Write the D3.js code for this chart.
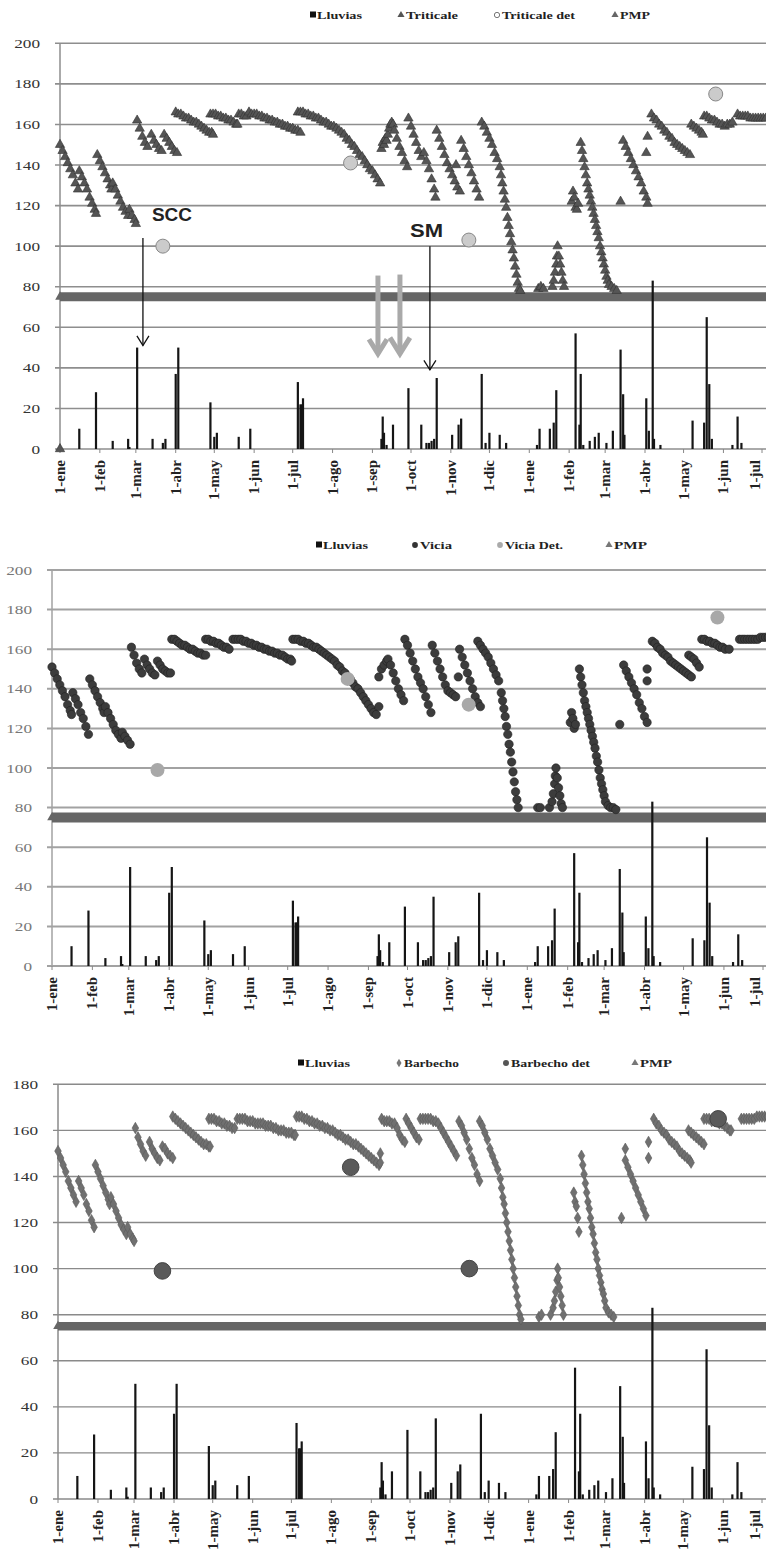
<!DOCTYPE html>
<html><head><meta charset="utf-8">
<script src="https://cdn.jsdelivr.net/npm/d3@7"></script>
<style>body{margin:0;background:#fff}svg{display:block}</style>
</head><body><svg id="c" width="766" height="1553"></svg>
<script>
// ---------- DATA ----------
const mesesDias = [0,31,59,90,120,151,181,212,243,273,304,334,365,396,424,455,485,516,546];
const mesesEtiquetas = ["1-ene","1-feb","1-mar","1-abr","1-may","1-jun","1-jul","1-ago","1-sep","1-oct","1-nov","1-dic","1-ene","1-feb","1-mar","1-abr","1-may","1-jun","1-jul"];

const lluviasDia = [15,28,41,53,54,60,72,80,82,90,92,117,120,122,139,148,185,187,188,189,250,251,252,254,259,271,281,285,287,289,291,293,305,310,312,328,331,334,342,347,371,373,381,384,386,401,404,405,407,412,416,419,425,430,436,438,439,456,458,461,462,467,492,501,503,505,507,523,527,530];
const lluviasMm  = [10,28,4,5,1,50,5,3,5,37,50,23,6,8,6,10,33,22,22,25,5,16,8,2,12,30,12,3,3,4,5,35,7,12,15,37,3,8,7,3,2,10,10,13,29,57,12,37,2,4,6,8,3,9,49,27,7,25,9,83,5,2,14,13,65,32,5,2,16,3];

const pmpValor = 75;

const triticale = [
[0,0],
[0,150],[2,147],[4,144],[6,141],[8,138],[10,135],[12,131],[14,128],
[15,137],[17,134],[19,131],[21,128],[23,124],[25,121],[27,118],[28,116],
[29,145],[31,142],[33,139],[35,136],[37,133],[39,130],[40,128],
[41,131],[43,128],[45,125],[47,122],[49,119],[51,117],[53,115],
[54,118],[56,115],[58,113],[59,111],
[60,162],[62,158],[64,154],[66,151],[68,149],
[71,155],[73,152],[75,150],[77,148],[79,147],
[81,155],[83,153],[85,151],[87,149],[89,147],[91,146],
[90,166],[92,165],[94,165],[96,164],[98,163],[100,163],[102,162],[104,161],[106,161],[108,160],[110,159],[112,158],[114,157],[116,156],[118,156],[119,155],
[117,165],[119,165],[121,165],[123,164],[125,164],[127,163],[129,163],[131,162],[133,162],[135,161],[137,160],[138,160],
[139,165],[141,165],[143,164],[145,164],[147,166],[149,165],[151,165],[153,165],[155,164],[157,164],[159,163],[161,163],[163,162],[165,162],[167,161],[169,161],[171,160],[173,160],[175,159],[177,159],[179,158],[181,158],[183,157],[185,157],[187,156],
[185,166],[187,166],[189,166],[191,165],[193,165],[195,164],[197,164],[199,163],[201,163],[203,162],[205,161],[207,161],[209,160],[211,159],[213,159],[215,158],[217,157],[219,156],[221,155],[223,153],[225,152],[227,150],[229,149],[231,147],[233,145],[235,144],[237,142],[239,140],[241,138],[243,137],[245,135],[247,133],[249,131],
[250,148],[251,151],[252,150],[253,153],[254,152],[255,155],[256,158],[257,160],[258,161],[259,160],[260,157],[262,153],[264,149],[266,146],[268,142],[270,139],
[271,163],[273,159],[275,155],[277,151],[279,147],[281,144],[283,146],[285,142],[287,138],[289,133],[291,128],[292,124],
[293,157],[295,153],[297,149],[299,145],[301,141],[303,138],[305,135],[307,132],[308,140],[309,129],[311,127],
[312,152],[314,148],[316,144],[318,140],[320,136],[322,132],[324,128],[326,124],
[328,161],[330,159],[332,156],[334,153],[336,150],[338,146],[340,143],[342,139],[343,135],[344,131],[345,127],[346,123],[347,119],[348,114],[349,110],[350,106],[351,102],[352,98],[353,94],[354,90],[355,86],[356,82],[357,79],[358,78],
[372,79],[374,80],[376,79],[383,80],[384,83],[385,87],[386,91],[386.5,95],[387,100],[388,95],[389,91],[390,87],[391,83],[392,80],
[398,122],[399,127],[400,124],[401,119],[402,118],[403,121],
[405,151],[406,147],[407,143],[408,139],[409,135],[410,131],[411,128],[412,125],[413,122],[414,119],[415,116],[416,113],[417,110],[418,107],[419,104],[420,100],[421,97],[422,94],[423,91],[424,88],[425,85],[426,83],[427,81],[429,80],[431,79],[433,78],
[436,122],
[438,152],[440,149],[442,146],[444,143],[446,140],[448,137],[450,134],[452,131],[454,127],[456,124],[457,121],
[456,146],[457,154],
[460,165],[462,163],[464,162],[466,160],[468,159],[470,157],[472,156],[474,154],[476,153],[478,151],[480,150],[482,149],[484,148],[486,147],[488,146],[490,145],
[491,160],[493,159],[495,158],[497,157],[499,156],[500,155],
[501,164],[503,164],[505,163],[507,162],[509,162],[511,161],[513,160],[515,160],[517,159],[519,160],[521,160],[523,161],
[527,165],[529,164],[531,164],[533,164],[535,164],[537,163],[539,163],[541,163],[543,163],[545,163],[547,163],[549,163]
];
const triticaleDet = [[80,100],[226,141],[318,103],[510,175]];

const vicia = [
[0,151],[2,148],[4,145],[6,142],[8,139],[10,136],[12,132],[14,129],[15,127],
[16,138],[18,135],[20,132],[22,128],[24,125],[26,121],[28,117],
[29,145],[31,142],[33,139],[35,136],[37,133],[39,130],[40,128],
[41,131],[43,128],[45,125],[47,122],[49,119],[51,117],[53,115],
[54,118],[56,116],[58,114],[60,112],
[61,161],[63,157],[65,153],[67,150],[69,148],
[71,155],[73,152],[75,150],[77,148],[79,147],
[81,154],[83,152],[85,150],[87,149],[89,148],[91,148],
[92,165],[94,165],[96,164],[98,163],[100,162],[102,162],[104,161],[106,160],[108,160],[110,159],[112,158],[114,158],[116,157],[118,157],
[118,165],[120,165],[122,164],[124,164],[126,163],[128,163],[130,162],[132,161],[134,161],[136,160],
[139,165],[141,165],[143,165],[145,165],[147,164],[149,164],[151,163],[153,163],[155,162],[157,162],[159,161],[161,161],[163,160],[165,160],[167,159],[169,159],[171,158],[173,158],[175,157],[177,157],[179,156],[181,155],[183,155],[184,154],
[185,165],[187,165],[189,165],[191,164],[193,164],[195,163],[197,163],[199,162],[201,161],[203,161],[205,160],[207,159],[209,158],[211,157],[213,156],[215,155],[217,154],[219,152],[221,151],[223,149],[225,148],[227,146],[229,145],[231,143],[233,141],[235,140],[237,138],[239,136],[241,134],[243,132],[245,130],[247,128],[249,127],
[251,131],[251,146],[253,150],[255,152],[257,154],[258,155],[260,152],[262,148],[264,144],[266,140],[268,137],[270,134],
[271,165],[273,162],[275,158],[277,154],[279,150],[281,146],[283,143],[285,140],[287,136],[289,132],[291,128],
[292,162],[294,158],[296,154],[298,150],[300,146],[302,142],[304,139],[306,138],[308,137],[310,136],
[312,146],[313,160],[315,156],[317,152],[319,148],[321,144],[323,140],[325,136],[327,133],[329,131],
[327,164],[329,162],[331,160],[333,158],[335,156],[337,153],[339,150],[341,147],[343,144],[345,138],[346,134],[347,130],[348,126],[349,121],[350,117],[351,112],[352,108],[353,103],[354,98],[355,93],[356,88],[357,84],[358,80],
[373,80],[375,80],[382,80],[384,83],[385,87],[386,92],[386.5,96],[387,100],[388,95],[389,90],[390,86],[391,82],[392,80],
[398,123],[399,128],[400,125],[401,120],[402,122],
[405,150],[406,146],[407,142],[408,138],[409,134],[410,131],[411,128],[412,125],[413,122],[414,119],[415,116],[416,113],[417,110],[418,106],[419,103],[420,99],[421,95],[422,92],[423,89],[424,86],[425,83],[427,81],[429,80],[431,80],[433,79],
[436,122],
[439,152],[441,149],[443,146],[445,143],[447,140],[449,137],[451,133],[453,130],[455,126],[457,123],
[457,144],[457,150],
[461,164],[463,163],[465,161],[467,160],[469,158],[471,157],[473,156],[475,154],[477,153],[479,152],[481,151],[483,150],[485,149],[487,148],[489,147],[491,146],
[489,157],[491,156],[493,155],[495,153],[497,151],
[499,165],[501,165],[503,164],[505,164],[507,163],[509,163],[511,162],[513,161],[515,161],[517,160],[520,160],
[528,165],[530,165],[532,165],[534,165],[536,165],[538,165],[540,165],[542,165],[544,166],[546,166],[548,166],[550,166]
];
const viciaDet = [[81,99],[227,145],[320,132],[511,176]];

const barbecho = [
[0,151],[2,148],[4,145],[6,142],[8,138],[10,135],[12,132],[14,129],
[16,138],[18,135],[20,132],[22,128],[24,125],[26,121],[28,118],
[29,145],[31,142],[33,139],[35,136],[37,133],[39,130],[40,128],
[41,131],[43,128],[45,125],[47,122],[49,119],[51,117],[53,115],
[54,118],[56,115],[58,113],[59,112],
[60,161],[62,157],[64,154],[66,151],[68,149],
[71,155],[73,152],[75,150],[77,148],[79,147],
[81,153],[83,152],[85,150],[87,149],[89,148],
[89,166],[91,165],[93,164],[95,163],[97,162],[99,161],[101,160],[103,159],[105,158],[107,157],[109,156],[111,155],[113,154],[115,154],[117,153],[118,153],
[117,165],[119,165],[121,165],[123,164],[125,164],[127,163],[129,163],[131,162],[133,162],[135,161],[137,161],
[139,165],[141,165],[143,165],[145,165],[147,164],[149,164],[151,164],[153,163],[155,163],[157,163],[159,163],[161,162],[163,162],[165,162],[167,161],[169,161],[171,160],[173,160],[175,160],[177,159],[179,159],[181,159],[183,158],[184,158],
[185,166],[187,166],[189,166],[191,165],[193,165],[195,164],[197,164],[199,163],[201,163],[203,162],[205,162],[207,161],[209,161],[211,160],[213,160],[215,159],[217,158],[219,158],[221,157],[223,156],[225,156],[227,155],[229,154],[231,154],[233,153],[235,152],[237,151],[239,150],[241,149],[243,148],[245,147],[247,146],[249,145],
[250,150],[250,146],
[251,165],[253,164],[255,164],[257,164],[259,163],[261,163],[263,161],[265,158],[267,156],[269,155],
[270,165],[272,163],[274,161],[276,159],[278,157],[280,156],
[281,165],[283,165],[285,165],[287,165],[289,165],[291,164],[293,164],[295,163],[297,161],[299,159],[301,157],[303,155],[305,153],[307,151],[309,149],
[311,164],[313,162],[315,159],[317,156],[319,152],[321,148],[323,145],[325,141],[327,138],
[327,164],[329,162],[331,159],[333,156],[335,152],[337,149],[339,146],[341,143],[343,139],[344,135],[345,131],[346,128],[347,124],[348,120],[349,116],[350,112],[351,108],[352,104],[353,100],[354,96],[355,92],[356,88],[357,84],[358,80],[359,78],
[373,79],[375,80],[382,80],[384,83],[385,86],[386,90],[387,95],[387.5,100],[388,96],[389,92],[390,88],[391,84],[392,80],
[400,133],[401,129],[402,127],[403,122],[404,116],
[406,149],[407,145],[408,141],[409,137],[410,133],[411,129],[412,126],[413,122],[414,118],[415,115],[416,111],[417,107],[418,104],[419,100],[420,97],[421,94],[422,91],[423,89],[424,86],[425,83],[427,81],[429,80],[431,79],
[437,122],
[440,152],[440,147],[442,144],[444,141],[446,138],[448,135],[450,132],[452,129],[454,126],[456,123],
[458,155],[458,148],
[462,165],[464,163],[466,162],[468,160],[470,159],[472,158],[474,156],[476,155],[478,154],[480,153],[482,151],[484,150],[486,149],[488,148],[490,147],[491,146],
[489,160],[491,159],[493,158],[495,157],[497,156],[499,155],[501,154],
[501,165],[503,165],[505,165],[507,164],[509,164],[511,164],[513,163],[515,163],[517,162],[519,161],[521,160],[522,160],
[530,165],[532,165],[534,165],[536,165],[538,165],[540,165],[542,166],[544,166],[546,166],[548,166],[550,166]
];
const barbechoDet = [[81,99],[227,144],[319,100],[512,165]];

// ---------- LAYOUT ----------
const svg = d3.select("#c");
const W = 766;

function panel(cfg) {
  const g = svg.append("g");
  const x = d3.scaleLinear().domain([0, 546]).range([cfg.left, cfg.right]);
  const y = d3.scaleLinear().domain([0, cfg.ymax]).range([cfg.bottom, cfg.top]);
  const yt = d3.range(0, cfg.ymax + 1, 20);

  g.selectAll("line.grid").data(yt).join("line")
    .attr("x1", cfg.left - 5).attr("x2", W)
    .attr("y1", d => y(d)).attr("y2", d => y(d))
    .attr("stroke", cfg.gridColor).attr("stroke-width", cfg.gridW);
  g.append("line").attr("x1", cfg.left).attr("x2", cfg.left)
    .attr("y1", y(0)).attr("y2", y(cfg.ymax))
    .attr("stroke", cfg.gridColor).attr("stroke-width", 1.5);
  g.selectAll("text.yl").data(yt).join("text")
    .attr("x", cfg.left - 20).attr("y", d => y(d) + 4.5)
    .attr("text-anchor", "end")
    .attr("font-family", "Liberation Serif, serif")
    .attr("font-size", 13).attr("fill", cfg.ylabColor)
    .attr("textLength", d => String(d).length * 8.6)
    .attr("lengthAdjust", "spacingAndGlyphs")
    .text(d => d);
  g.selectAll("line.xt").data(mesesDias).join("line")
    .attr("x1", d => x(d)).attr("x2", d => x(d))
    .attr("y1", y(0)).attr("y2", y(0) + 4)
    .attr("stroke", "#888").attr("stroke-width", 1);
  g.selectAll("text.xl").data(mesesDias).join("text")
    .attr("transform", d => `translate(${Math.min(x(d) + 5, 760)},${y(0) + 11}) rotate(-90)`)
    .attr("text-anchor", "end")
    .attr("font-family", "Liberation Serif, serif")
    .attr("font-weight", "bold")
    .attr("font-size", 15).attr("fill", "#222")
    .text((d, i) => mesesEtiquetas[i]);

  g.append("line").attr("x1", x(0)).attr("x2", W)
    .attr("y1", y(pmpValor)).attr("y2", y(pmpValor))
    .attr("stroke", "#666").attr("stroke-width", cfg.pmpW);
  g.append("path").attr("d", d3.symbol().type(d3.symbolTriangle).size(40)())
    .attr("transform", `translate(${x(0)},${y(pmpValor)})`).attr("fill", "#666");

  g.selectAll("rect.ll").data(lluviasDia).join("rect")
    .attr("x", d => x(d) - 1.1).attr("width", 2.2)
    .attr("y", (d, i) => y(lluviasMm[i]))
    .attr("height", (d, i) => y(0) - y(lluviasMm[i]))
    .attr("fill", "#151515");

  const sym = d3.symbol().type(cfg.symbol).size(cfg.symSize)();
  g.selectAll("path.s").data(cfg.serie).join("path")
    .attr("d", sym)
    .attr("transform", d => `translate(${x(d[0])},${y(d[1])})`)
    .attr("fill", cfg.symFill).attr("stroke", cfg.symStroke).attr("stroke-width", 0.6);

  g.selectAll("circle.det").data(cfg.det).join("circle")
    .attr("cx", d => x(d[0])).attr("cy", d => y(d[1])).attr("r", cfg.detR)
    .attr("fill", cfg.detFill).attr("stroke", cfg.detStroke).attr("stroke-width", 1);

  const lg = g.append("g").attr("font-family", "Liberation Serif, serif")
    .attr("font-weight", "bold").attr("font-size", 10).attr("fill", "#222");
  cfg.legend.forEach(it => {
    const cy = cfg.legendY;
    if (it.kind === "sq") lg.append("rect").attr("x", it.mx).attr("y", cy - 3.5).attr("width", 6).attr("height", 6).attr("fill", "#111");
    else {
      const p = d3.symbol().type(it.type).size(it.size)();
      lg.append("path").attr("d", p).attr("transform", `translate(${it.mx + 3},${cy})`)
        .attr("fill", it.fill).attr("stroke", it.stroke || "none").attr("stroke-width", 0.8);
    }
    lg.append("text").attr("x", it.tx).attr("y", cy + 3.5)
      .attr("textLength", it.tw).attr("lengthAdjust", "spacingAndGlyphs").text(it.label);
  });
  return {x, y, g};
}

const p1 = panel({left: 60, right: 762, top: 43.3, bottom: 449, ymax: 200,
  gridColor: "#8e8e8e", gridW: 1.6, ylabColor: "#333", pmpW: 9,
  serie: triticale, symbol: d3.symbolTriangle, symSize: 38, symFill: "#555", symStroke: "#333",
  det: triticaleDet, detR: 7, detFill: "#cbcbcb", detStroke: "#888",
  legendY: 15,
  legend: [
    {kind: "sq", mx: 310, tx: 317, tw: 45, label: "Lluvias"},
    {type: d3.symbolTriangle, size: 22, fill: "#555", mx: 398, tx: 406, tw: 52, label: "Triticale"},
    {type: d3.symbolCircle, size: 22, fill: "#fff", stroke: "#555", mx: 494, tx: 502, tw: 73, label: "Triticale det"},
    {type: d3.symbolTriangle, size: 22, fill: "#666", mx: 612, tx: 620, tw: 30, label: "PMP"}
  ]});

const p2 = panel({left: 52, right: 763, top: 570, bottom: 966, ymax: 200,
  gridColor: "#a2a2a2", gridW: 2, ylabColor: "#777", pmpW: 10,
  serie: vicia, symbol: d3.symbolCircle, symSize: 55, symFill: "#3c3c3c", symStroke: "#222",
  det: viciaDet, detR: 7, detFill: "#a8a8a8", detStroke: "none",
  legendY: 545,
  legend: [
    {kind: "sq", mx: 316, tx: 323, tw: 45, label: "Lluvias"},
    {type: d3.symbolCircle, size: 26, fill: "#333", mx: 412, tx: 420, tw: 32, label: "Vicia"},
    {type: d3.symbolCircle, size: 26, fill: "#aaa", mx: 497, tx: 505, tw: 58, label: "Vicia Det."},
    {type: d3.symbolTriangle, size: 22, fill: "#777", mx: 606, tx: 614, tw: 33, label: "PMP"}
  ]});

const p3 = panel({left: 58, right: 762, top: 1084.3, bottom: 1499, ymax: 180,
  gridColor: "#8a8a8a", gridW: 1.4, ylabColor: "#333", pmpW: 8.5,
  serie: barbecho, symbol: d3.symbolDiamond, symSize: 38, symFill: "#707070", symStroke: "#5a5a5a",
  det: barbechoDet, detR: 8.3, detFill: "#5a5a5a", detStroke: "#444",
  legendY: 1063,
  legend: [
    {kind: "sq", mx: 298, tx: 305, tw: 45, label: "Lluvias"},
    {type: d3.symbolDiamond, size: 22, fill: "#777", mx: 396, tx: 404, tw: 55, label: "Barbecho"},
    {type: d3.symbolCircle, size: 28, fill: "#555", mx: 503, tx: 511, tw: 79, label: "Barbecho det"},
    {type: d3.symbolTriangle, size: 22, fill: "#777", mx: 632, tx: 640, tw: 32, label: "PMP"}
  ]});

// ---------- ANNOTATIONS (panel 1) ----------
const a = p1.g.append("g");
function flecha(day, v0, v1, color, w, head) {
  const X = p1.x(day), Y0 = p1.y(v0), Y1 = p1.y(v1);
  a.append("line").attr("x1", X).attr("x2", X).attr("y1", Y0).attr("y2", Y1)
    .attr("stroke", color).attr("stroke-width", w);
  a.append("path").attr("d", `M${X - head},${Y1 - head * 1.6}L${X},${Y1}L${X + head},${Y1 - head * 1.6}`)
    .attr("fill", "none").attr("stroke", color).attr("stroke-width", w).attr("stroke-linejoin", "miter");
}
flecha(64.5, 104, 51, "#111", 1.3, 6);
flecha(287.7, 100, 39, "#111", 1.3, 6);
flecha(247.3, 85.5, 47, "#a9a9a9", 5, 9);
flecha(264.4, 86, 47, "#a9a9a9", 5, 10);
a.append("text").attr("x", p1.x(71.5)).attr("y", p1.y(112.5))
  .attr("font-family", "Liberation Sans, Arial, sans-serif").attr("font-weight", "bold")
  .attr("font-size", 19).attr("fill", "#222").attr("textLength", 40)
  .attr("lengthAdjust", "spacingAndGlyphs").text("SCC");
a.append("text").attr("x", p1.x(272.2)).attr("y", p1.y(104.5))
  .attr("font-family", "Liberation Sans, Arial, sans-serif").attr("font-weight", "bold")
  .attr("font-size", 19).attr("fill", "#222").attr("textLength", 33)
  .attr("lengthAdjust", "spacingAndGlyphs").text("SM");
</script></body></html>
